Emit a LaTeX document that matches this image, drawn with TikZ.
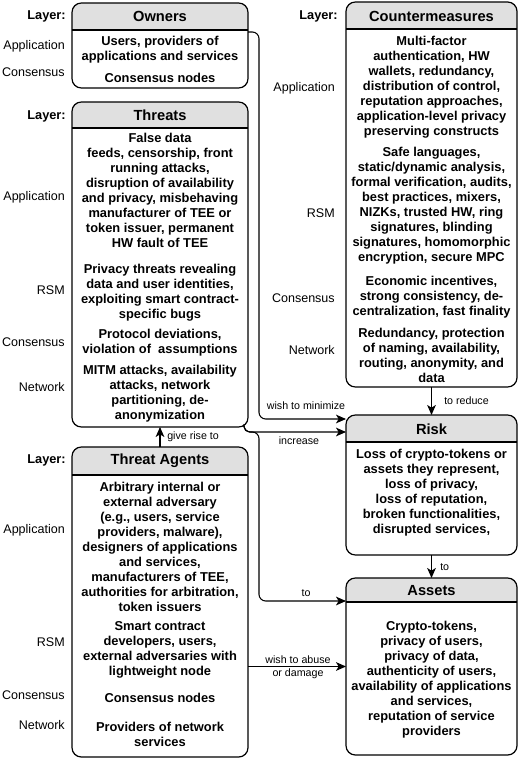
\documentclass[tikz,border=0pt]{standalone}
\usepackage{fontspec}
\setmainfont{Liberation Sans}
\usetikzlibrary{arrows.meta,calc}
\definecolor{hdr}{RGB}{224,224,224}
\begin{document}
\begin{tikzpicture}[x=0.75pt,y=-0.75pt,
  hbox/.style={draw, line width=0.9pt, rounded corners=7pt, anchor=north west, inner sep=0pt, outer sep=0pt,
    path picture={\fill[hdr, sharp corners] (path picture bounding box.north west) rectangle ([yshift=-#1]path picture bounding box.north east);}},
  hline/.style={line width=0.9pt},
  title/.style={font=\fontsize{11}{13}\selectfont\bfseries, inner sep=0pt},
  body/.style={font=\fontsize{9.65}{11.25}\selectfont\bfseries, align=center, inner sep=0pt},
  lay/.style={font=\fontsize{9.4}{11.25}\selectfont, anchor=east, inner sep=0pt},
  layb/.style={font=\fontsize{9.6}{11.25}\selectfont\bfseries, anchor=east, inner sep=0pt},
  elab/.style={font=\fontsize{8}{9.5}\selectfont, inner sep=0pt, align=center},
  conn/.style={line width=0.8pt, -{Stealth[length=7.5pt,width=6.5pt,inset=2pt]}},
  line/.style={line width=0.8pt}
]
\fill[white] (0,0) rectangle (520,759);
\useasboundingbox (0,0) rectangle (520,759);

% ---------- Owners ----------
\node[hbox=20.25pt, minimum width=132pt, minimum height=63.75pt] (own) at (72,3) {};
\draw[hline] ([yshift=-20.25pt]own.north west) -- ([yshift=-20.25pt]own.north east);
\node[title] (ownT) at (160,16.5) {Owners};
\node[body] (own1) at (160,49.5) {Users, providers of\\applications and services};
\node[body] (own2) at (160,78) {Consensus nodes};
\node[layb] (ownL) at (66,16.5) {Layer:};
\node[lay] (ownL1) at (65,46) {Application};
\node[lay] (ownL2) at (65,72) {Consensus};

% ---------- Threats ----------
\node[hbox=19.5pt, minimum width=132pt, minimum height=243.75pt] (thr) at (72,102) {};
\draw[hline] ([yshift=-19.5pt]thr.north west) -- ([yshift=-19.5pt]thr.north east);
\node[title] (thrT) at (160,115.5) {Threats};
\node[body] (thr1) at (160,190) {False data\\feeds, censorship, front\\running attacks,\\disruption of availability\\and privacy, misbehaving\\manufacturer of TEE or\\token issuer, permanent\\HW fault of TEE};
\node[body] (thr2) at (160,292.5) {Privacy threats revealing\\data and user identities,\\exploiting smart contract-\\specific bugs};
\node[body] (thr3) at (160,342.5) {Protocol deviations,\\violation of~ assumptions};
\node[body] (thr4) at (160,394) {MITM attacks, availability\\attacks, network\\partitioning, de-\\anonymization};
\node[layb] (thrL) at (66,116) {Layer:};
\node[lay] (thrL1) at (65,197) {Application};
\node[lay] (thrL2) at (65,290) {RSM};
\node[lay] (thrL3) at (65,342) {Consensus};
\node[lay] (thrL4) at (65,387) {Network};

% ---------- Threat Agents ----------
\node[hbox=21pt, minimum width=132pt, minimum height=232.5pt] (ta) at (72,447) {};
\draw[hline] ([yshift=-21pt]ta.north west) -- ([yshift=-21pt]ta.north east);
\node[title] (taT) at (160,461) {Threat Agents};
\node[body] (ta1) at (160,547) {Arbitrary internal or\\external adversary\\ (e.g., users, service\\providers, malware),\\designers of applications\\and services,\\manufacturers of TEE,\\authorities for arbitration,\\token issuers};
\node[body] (ta2) at (160,649.5) {Smart contract\\developers, users,\\external adversaries with\\lightweight node};
\node[body] (ta3) at (160,698) {Consensus nodes};
\node[body] (ta4) at (160,734.5) {Providers of network\\services};
\node[layb] (taL) at (66,460) {Layer:};
\node[lay] (taL1) at (65,530) {Application};
\node[lay] (taL2) at (65,642) {RSM};
\node[lay] (taL3) at (65,695) {Consensus};
\node[lay] (taL4) at (65,725) {Network};

% ---------- Countermeasures ----------
\node[hbox=20.25pt, minimum width=128.25pt, minimum height=288.75pt] (cm) at (346,2) {};
\draw[hline] ([yshift=-20.25pt]cm.north west) -- ([yshift=-20.25pt]cm.north east);
\node[title] (cmT) at (431.5,16) {Countermeasures};
\node[body] (cm1) at (431.5,87) {Multi-factor\\authentication, HW\\wallets, redundancy,\\distribution of control,\\reputation approaches,\\application-level privacy\\preserving constructs};
\node[body] (cm2) at (431.5,205.5) {Safe languages,\\static/dynamic analysis,\\formal verification, audits,\\best practices, mixers,\\NIZKs, trusted HW, ring\\signatures, blinding\\signatures, homomorphic\\encryption, secure MPC};
\node[body] (cm3) at (431.5,297.5) {Economic incentives,\\strong consistency, de-\\centralization, fast finality};
\node[body] (cm4) at (431.5,355.5) {Redundancy, protection\\of naming, availability,\\routing, anonymity, and\\data};
\node[layb] (cmL) at (338,16) {Layer:};
\node[lay] (cmL1) at (335,88) {Application};
\node[lay] (cmL2) at (335,213) {RSM};
\node[lay] (cmL3) at (335,298) {Consensus};
\node[lay] (cmL4) at (335,350) {Network};

% ---------- Risk ----------
\node[hbox=20.25pt, minimum width=128.25pt, minimum height=105pt] (risk) at (346,415) {};
\draw[hline] ([yshift=-20.25pt]risk.north west) -- ([yshift=-20.25pt]risk.north east);
\node[title] (riskT) at (431.5,429) {Risk};
\node[body] (risk1) at (431.5,493) {Loss of crypto-tokens or\\assets they represent,\\loss of privacy,\\loss of reputation,\\broken functionalities,\\disrupted services,};

% ---------- Assets ----------
\node[hbox=18pt, minimum width=128.25pt, minimum height=132.75pt] (ast) at (346,578) {};
\draw[hline] ([yshift=-18pt]ast.north west) -- ([yshift=-18pt]ast.north east);
\node[title] (astT) at (431.5,590.5) {Assets};
\node[body] (ast1) at (431.5,679.5) {Crypto-tokens,\\ privacy of users,\\privacy of data,\\authenticity of users,\\availability of applications\\and services,\\reputation of service\\providers};

% ---------- Connectors ----------
\draw[conn, rounded corners=5pt] ($(own.north east)+(0,29)$) -- ($(own.north east)+(11,29)$) |- ($(risk.north west)+(0,4)$);
\node[elab] (lmin) at (306,406) {wish to minimize};

\draw[conn, rounded corners=4pt] ($(thr.south east)+(-4,0)$) |- ($(risk.north west)+(0,17)$);
\node[elab] (linc) at (299,441) {increase};

\draw[conn, rounded corners=5pt] ($(thr.south east)+(-4,0)$) |- ($(thr.south east)+(11,5)$) |- ($(ast.north west)+(0,23)$);
\node[elab] (lto1) at (306,593) {to};

\draw[conn] (ta.north) -- (thr.south);
\node[elab, anchor=west] (lgive) at (167,437) {give rise to};

\draw[conn] (cm.south) -- (risk.north);
\node[elab, anchor=west] (lred) at (444,401) {to reduce};

\draw[conn] (risk.south) -- (ast.north);
\node[elab, anchor=west] (lto2) at (440,567) {to};

\draw[conn] (ta.east |- ast.west) -- (ast.west);
\node[elab] (labuse) at (298,667.5) {wish to abuse\\or damage};
\end{tikzpicture}
\end{document}
